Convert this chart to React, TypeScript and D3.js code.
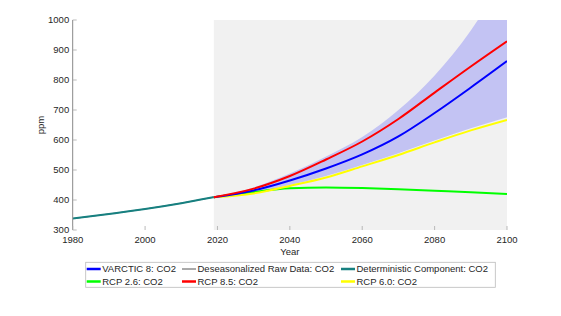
import { useMemo } from 'react'
import * as d3 from 'd3'

// historical record
const histYears = [1980, 1985, 1990, 1995, 2000, 2005, 2010, 2015, 2019]
const deterministic = [338, 345.5, 353.5, 361.5, 370, 379.5, 389.5, 400.5, 409.5]
const rawData = [338, 345.5, 353.5, 361.5, 370, 379.5, 389.5, 400.5, 409.5]

// projections
const projYears = [2019, 2030, 2040, 2050, 2060, 2070, 2080, 2090, 2100]
const varctic = [409.5, 432, 465, 505, 552, 612, 690, 775, 863]
const bandUpper = [409.5, 442, 488, 545, 610, 700, 815, 965, 1160]
const bandLower = [409.5, 424, 450, 480, 517, 556, 598, 639, 676]
const rcp26 = [409.5, 427, 439, 442, 440, 436, 431, 426, 420]
const rcp85 = [409.5, 438, 480, 535, 595, 670, 758, 845, 929]
const rcp60 = [409.5, 422, 447, 475, 512, 550, 592, 632, 667]

const xTicks = [1980, 2000, 2020, 2040, 2060, 2080, 2100]
const yTicks = [300, 400, 500, 600, 700, 800, 900, 1000]

const legendItems = [
  { label: 'VARCTIC 8: CO2', color: '#0000ff', width: 2.5 },
  { label: 'Deseasonalized Raw Data: CO2', color: '#555555', width: 1 },
  { label: 'Deterministic Component: CO2', color: '#178080', width: 2.5 },
  { label: 'RCP 2.6: CO2', color: '#00ff00', width: 2.5 },
  { label: 'RCP 8.5: CO2', color: '#ff0000', width: 2.5 },
  { label: 'RCP 6.0: CO2', color: '#ffff00', width: 2.5 },
]

const font = '"Liberation Sans", Arial, sans-serif'

const App = () => {
  const left = 72.7
  const right = 507
  const top = 20
  const bottom = 230

  const x = d3.scaleLinear().domain([1980, 2100]).range([left, right])
  const y = d3.scaleLinear().domain([300, 1000]).range([bottom, top])

  const paths = useMemo(() => {
    const line = (ys: number[], xs: number[]) =>
      d3
        .line<number>()
        .x((_, i) => x(xs[i]))
        .y((d) => y(d))
        .curve(d3.curveMonotoneX)(ys) as string
    const area = d3
      .area<number>()
      .x((_, i) => x(projYears[i]))
      .y0((_, i) => y(bandLower[i]))
      .y1((d) => y(d))
      .curve(d3.curveMonotoneX)(bandUpper) as string
    return {
      area,
      raw: line(rawData, histYears),
      det: line(deterministic, histYears),
      varctic: line(varctic, projYears),
      rcp26: line(rcp26, projYears),
      rcp85: line(rcp85, projYears),
      rcp60: line(rcp60, projYears),
    }
  }, [])

  const legendX = [86.7, 182, 341]
  const legendY = [269, 281.5]

  return (
    <svg
      width={561}
      height={316}
      style={{ position: 'absolute', left: 0, top: 0, background: '#fff' }}
    >
      <defs>
        <clipPath id='plot'>
          <rect x={left} y={top} width={right - left} height={bottom - top} />
        </clipPath>
      </defs>

      {/* forecast period background */}
      <rect x={x(2019)} y={top} width={right - x(2019)} height={bottom - top} fill='#f1f1f1' />

      <g clipPath='url(#plot)'>
        <path d={paths.area} fill='#c3c3f3' />
        <path d={paths.raw} fill='none' stroke='#555' strokeWidth={1} />
        <path d={paths.det} fill='none' stroke='#178080' strokeWidth={2} />
        <path d={paths.rcp26} fill='none' stroke='#00ff00' strokeWidth={2} />
        <path d={paths.rcp60} fill='none' stroke='#ffff00' strokeWidth={2} />
        <path d={paths.varctic} fill='none' stroke='#0000ff' strokeWidth={2} />
        <path d={paths.rcp85} fill='none' stroke='#ff0000' strokeWidth={2} />
      </g>

      {/* y axis */}
      <line x1={left} x2={left} y1={top} y2={bottom} stroke='#888' strokeWidth={1} />
      {yTicks.map((t) => (
        <g key={t}>
          <line x1={left} x2={left + 4} y1={y(t)} y2={y(t)} stroke='#aaa' strokeWidth={0.8} />
          <text
            x={left - 3.5}
            y={y(t) + 3.4}
            textAnchor='end'
            fontFamily={font}
            fontSize={9.5}
            fill='#262626'
          >
            {t}
          </text>
        </g>
      ))}

      {/* x axis */}
      {xTicks.map((t) => (
        <g key={t}>
          <line x1={x(t)} x2={x(t)} y1={bottom} y2={bottom - 4} stroke='#aaa' strokeWidth={0.8} />
          <text x={x(t)} y={243} textAnchor='middle' fontFamily={font} fontSize={9.5} fill='#262626'>
            {t}
          </text>
        </g>
      ))}

      <text x={(left + right) / 2} y={255} textAnchor='middle' fontFamily={font} fontSize={9.5} fill='#262626'>
        Year
      </text>
      <text
        transform={`translate(44, ${(top + bottom) / 2}) rotate(-90)`}
        textAnchor='middle'
        fontFamily={font}
        fontSize={9.5}
        fill='#262626'
      >
        ppm
      </text>

      {/* legend */}
      <rect x={85.7} y={262.3} width={409.6} height={25} fill='#fff' stroke='#bbb' strokeWidth={0.8} />
      {legendItems.map((item, i) => {
        const lx = legendX[i % 3]
        const ly = legendY[Math.floor(i / 3)]
        return (
          <g key={item.label}>
            <line x1={lx} x2={lx + 14} y1={ly} y2={ly} stroke={item.color} strokeWidth={item.width} />
            <text x={lx + 15.5} y={ly + 3.3} fontFamily={font} fontSize={9.5} fill='#262626'>
              {item.label}
            </text>
          </g>
        )
      })}
    </svg>
  )
}

export default App
